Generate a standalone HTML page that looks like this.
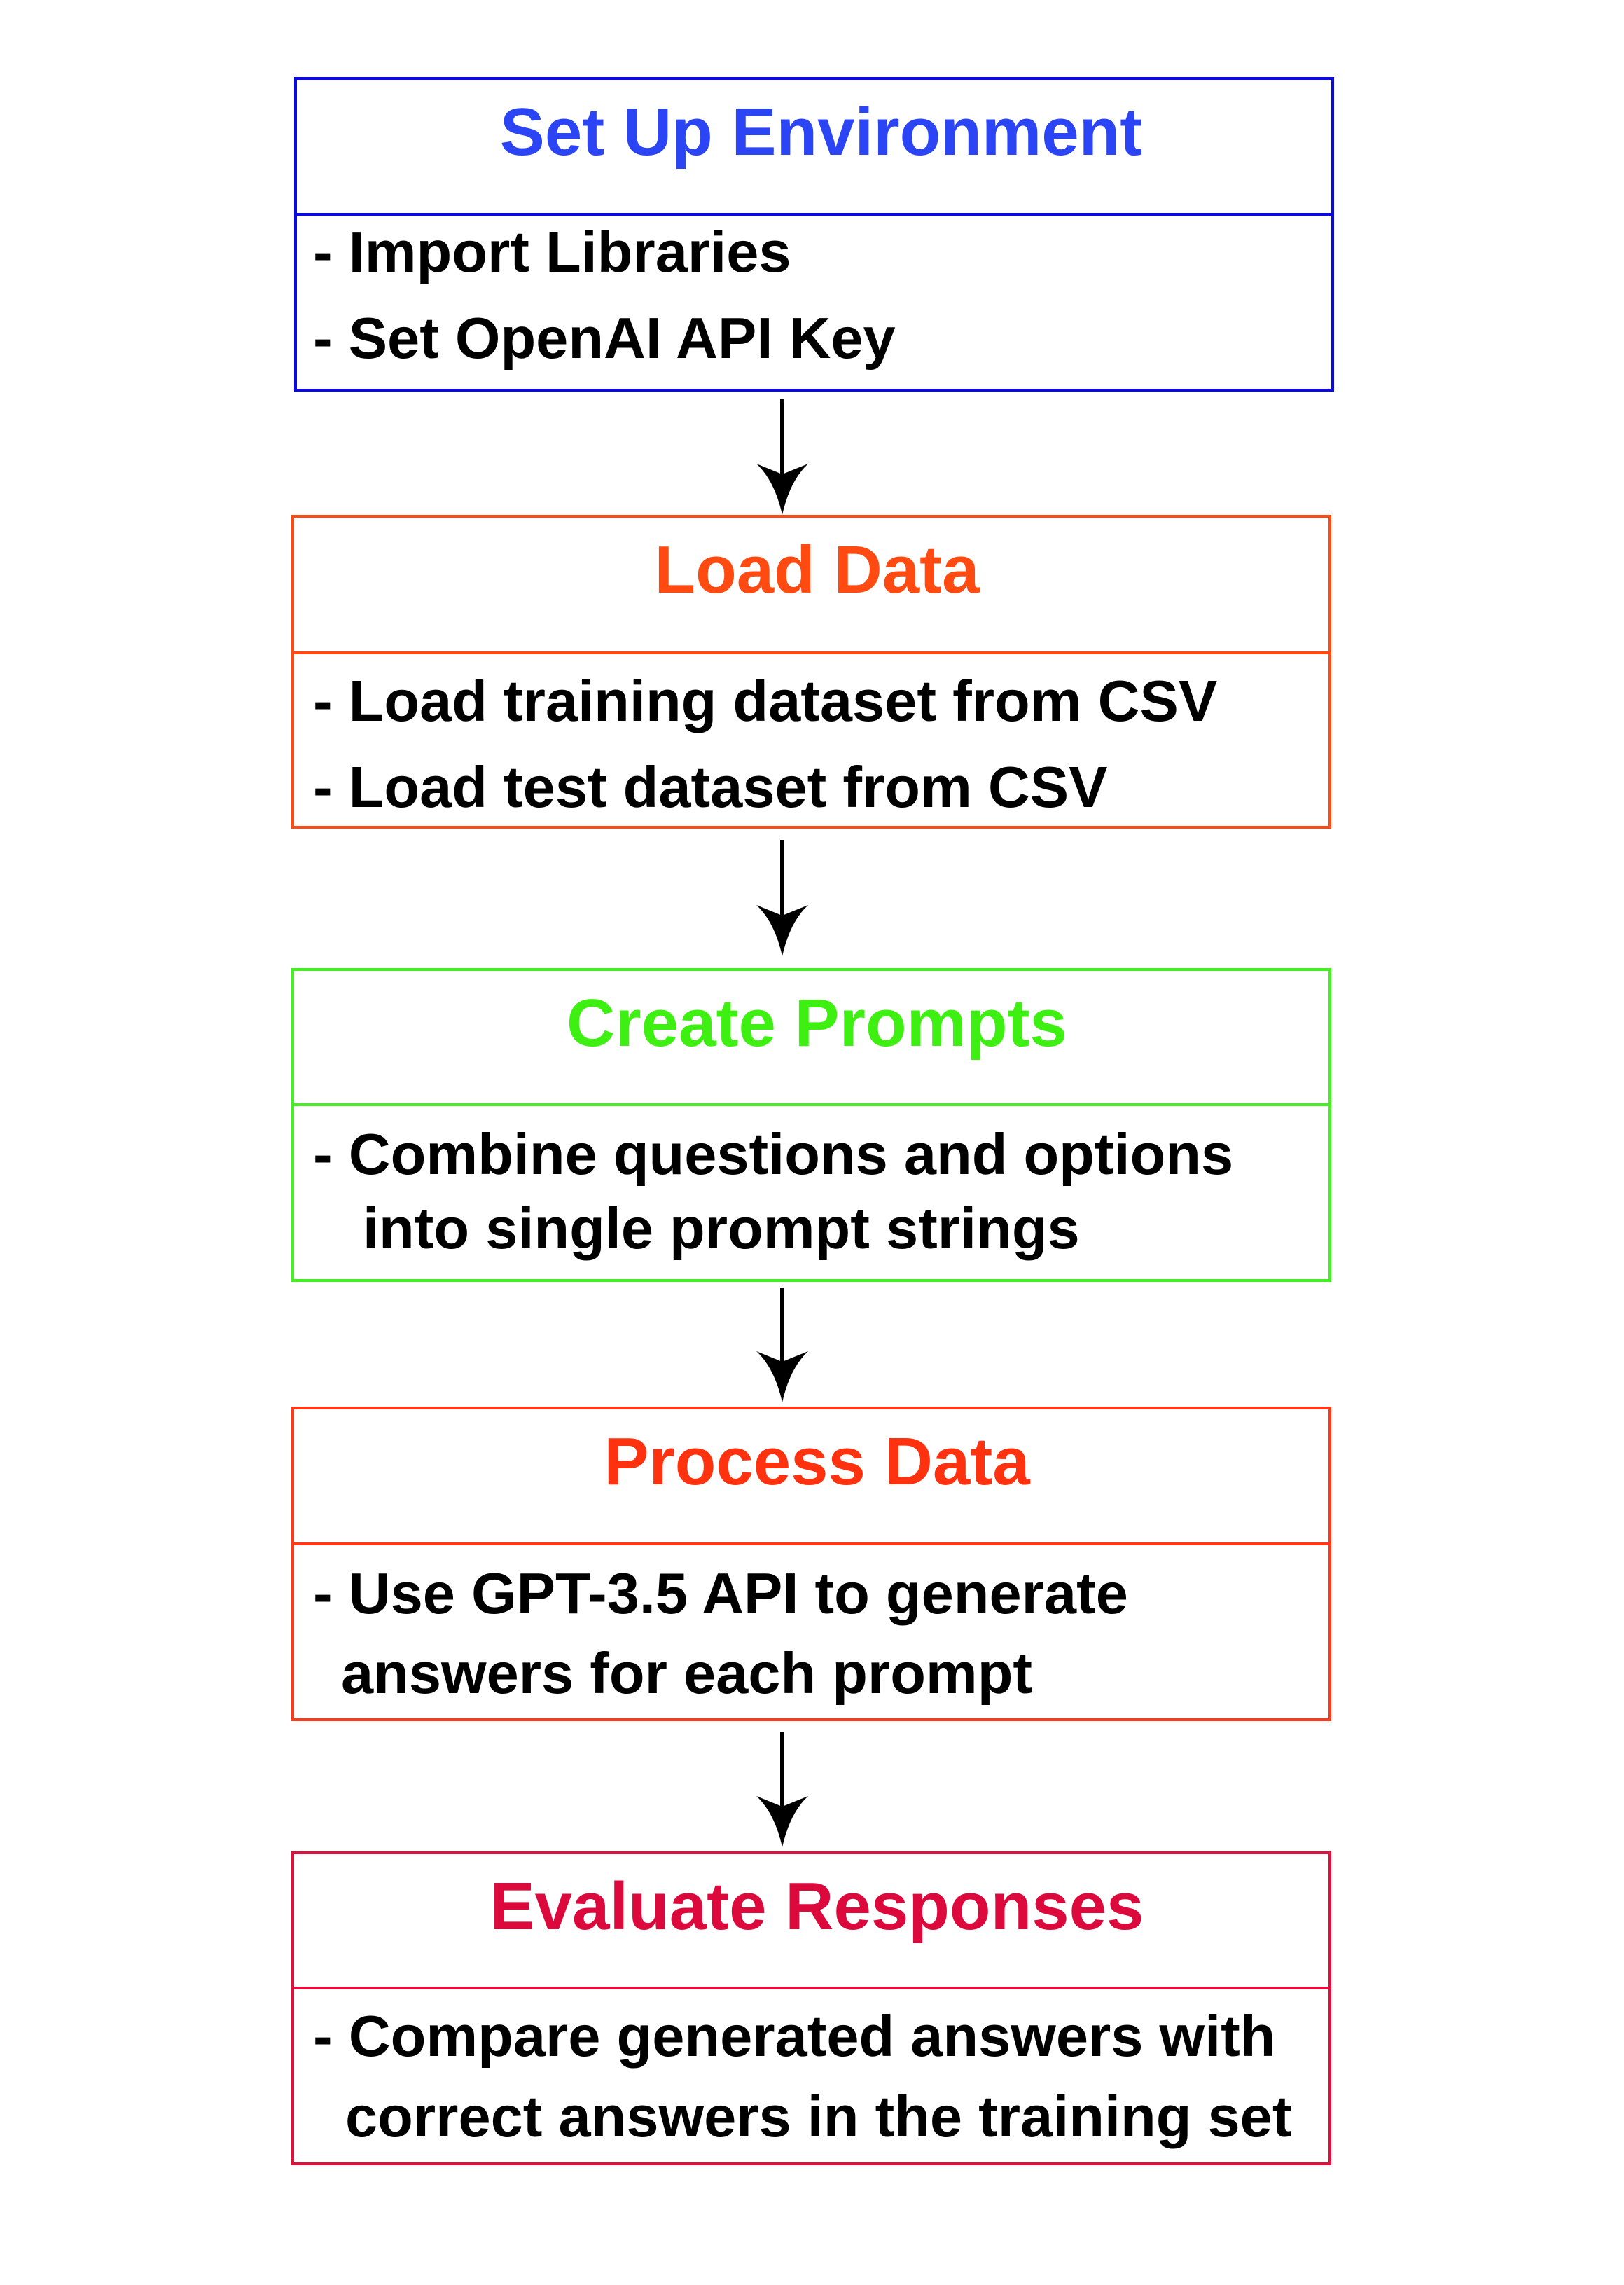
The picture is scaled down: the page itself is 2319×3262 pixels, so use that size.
<!DOCTYPE html>
<html><head><meta charset="utf-8"><style>
html,body{margin:0;padding:0;background:#fff;}
body{width:2319px;height:3262px;position:relative;overflow:hidden;font-family:"Liberation Sans",Arial,sans-serif;font-weight:bold;}
.box{position:absolute;left:416px;width:1485px;box-sizing:border-box;border:4px solid;}
.div{position:absolute;left:416px;width:1485px;height:4px;}
.t{position:absolute;left:424px;width:1485px;text-align:center;font-size:96px;line-height:110px;white-space:nowrap;}
.l{position:absolute;font-size:83px;line-height:100px;color:#000;white-space:nowrap;}
</style></head><body>

<div class="box" style="top:110px;height:449px;left:420px;border-color:#0a0ae8"></div>
<div class="div" style="top:304px;left:420px;background:#0a0ae8"></div>
<div class="t" style="top:134px;left:430px;color:#2b45f5">Set Up Environment</div>
<div class="l" style="left:447px;top:310px">- Import Libraries</div>
<div class="l" style="left:447px;top:433px">- Set OpenAI API Key</div>

<div class="box" style="top:735px;height:448px;border-color:#ff4a12"></div>
<div class="div" style="top:930px;background:#ff4a12"></div>
<div class="t" style="top:759px;color:#ff4a12">Load Data</div>
<div class="l" style="left:447px;top:951px">- Load training dataset from CSV</div>
<div class="l" style="left:447px;top:1074px">- Load test dataset from CSV</div>

<div class="box" style="top:1382px;height:448px;border-color:#44f022"></div>
<div class="div" style="top:1575px;background:#44f022"></div>
<div class="t" style="top:1406px;color:#3ef012">Create Prompts</div>
<div class="l" style="left:447px;top:1598px">- Combine questions and options</div>
<div class="l" style="left:518px;top:1704px">into single prompt strings</div>

<div class="box" style="top:2008px;height:449px;border-color:#ff3a1a"></div>
<div class="div" style="top:2202px;background:#ff3a1a"></div>
<div class="t" style="top:2032px;color:#ff3210">Process Data</div>
<div class="l" style="left:447px;top:2225px">- Use GPT-3.5 API to generate</div>
<div class="l" style="left:487px;top:2339px">answers for each prompt</div>

<div class="box" style="top:2643px;height:448px;border-color:#e0103c"></div>
<div class="div" style="top:2836px;background:#e0103c"></div>
<div class="t" style="top:2667px;color:#dc0a3c">Evaluate Responses</div>
<div class="l" style="left:447px;top:2857px">- Compare generated answers with</div>
<div class="l" style="left:493px;top:2972px">correct answers in the training set</div>

<svg width="2319" height="3262" style="position:absolute;left:0;top:0" xmlns="http://www.w3.org/2000/svg">
<g stroke="#000" stroke-width="6">
<line x1="1117" y1="570" x2="1117" y2="680"/>
<line x1="1117" y1="1199" x2="1117" y2="1310"/>
<line x1="1117" y1="1838" x2="1117" y2="1947"/>
<line x1="1117" y1="2472" x2="1117" y2="2582"/>
</g>
<g fill="#000">
<path d="M1117 735 Q1106 686 1080 662 L1117 677 L1154 662 Q1128 686 1117 735 Z"/>
<path d="M1117 1365 Q1106 1316 1080 1292 L1117 1307 L1154 1292 Q1128 1316 1117 1365 Z"/>
<path d="M1117 2002 Q1106 1953 1080 1929 L1117 1944 L1154 1929 Q1128 1953 1117 2002 Z"/>
<path d="M1117 2637 Q1106 2588 1080 2564 L1117 2579 L1154 2564 Q1128 2588 1117 2637 Z"/>
</g>
</svg>
</body></html>
